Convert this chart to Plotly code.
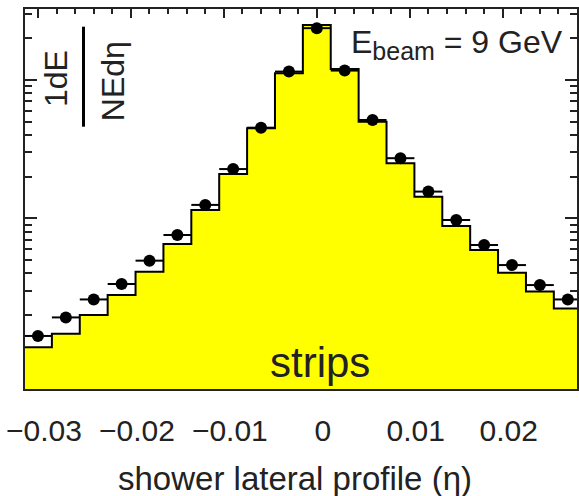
import plotly.graph_objects as go

# ---- data ----
bin_centers = [-0.030, -0.027, -0.024, -0.021, -0.018, -0.015, -0.012, -0.009, -0.006, -0.003,
               0.000, 0.003, 0.006, 0.009, 0.012, 0.015, 0.018, 0.021, 0.024, 0.027]
bin_width = 0.003
data_values = [1.41, 1.92, 2.59, 3.35, 4.94, 7.57, 12.5, 22.7, 45.2, 115,
               237, 117, 51.4, 27.2, 15.6, 9.72, 6.41, 4.59, 3.29, 2.59]
mc_values = [1.17, 1.46, 2.00, 2.79, 4.11, 6.52, 11.5, 20.9, 44.8, 112,
             250, 120, 49.9, 25.0, 14.3, 8.80, 5.90, 4.04, 2.95, 2.23]
x_title = "shower lateral profile (η)"
y_title_num = "1dE"
y_title_den = "NEdη"
beam_label = "E<sub><span style='font-size:25px'>beam</span></sub> = 9 GeV"
layer_label = "strips"

# ---- derived ----
half = bin_width / 2
edges_left = [c - half for c in bin_centers]
step_x = edges_left + [bin_centers[-1] + half]
step_y = mc_values + [mc_values[-1]]

W, H = 579, 496
L, R, T, B = 24, 1, 8, 106
pw, ph = W - L - R, H - T - B


def px(x):
    return (x - L) / pw


def py(y):
    return (H - B - y) / ph


TXT = "#222222"
FONT = "Liberation Sans, Arial, sans-serif"

fig = go.Figure()
fig.add_trace(go.Scatter(
    x=step_x, y=step_y, mode="lines", line=dict(shape="hv", color="black", width=2),
    fill="tozeroy", fillcolor="#ffff00", hoverinfo="skip", showlegend=False))
fig.add_trace(go.Scatter(
    x=bin_centers, y=data_values, mode="markers",
    marker=dict(color="black", size=12),
    error_x=dict(type="constant", value=half, thickness=2, width=0, color="black"),
    showlegend=False))

fig.update_layout(
    width=W, height=H,
    margin=dict(l=L, r=R, t=T, b=B, pad=0),
    paper_bgcolor="white", plot_bgcolor="white",
    font=dict(family=FONT, color=TXT, size=30),
    xaxis=dict(
        range=[-0.0315, 0.0281], tickmode="linear", tick0=0, dtick=0.01,
        ticks="inside", ticklen=10, tickwidth=2, tickcolor="#222",
        mirror="ticks", showline=False, showgrid=False, zeroline=False,
        layer="below traces", tickfont=dict(size=30, family=FONT, color=TXT),
        ticklabelshift=6, ticklabelstandoff=20, automargin=False,
        minor=dict(dtick=0.002, ticks="inside", ticklen=6, tickwidth=2, tickcolor="#222", showgrid=False),
    ),
    yaxis=dict(
        type="log", range=[-0.2415, 2.5206], dtick=1,
        ticks="inside", ticklen=13, tickwidth=2, tickcolor="#222",
        mirror="ticks", showline=False, showgrid=False, zeroline=False,
        showticklabels=False, layer="below traces", automargin=False,
        minor=dict(dtick="D1", ticks="inside", ticklen=8, tickwidth=2, tickcolor="#222", showgrid=False),
    ),
    shapes=[
        dict(type="rect", xref="paper", yref="paper", x0=0, x1=1, y0=0, y1=1,
             line=dict(color="#222", width=2), layer="above"),
        dict(type="line", xref="paper", yref="paper", x0=px(83.5), x1=px(83.5),
             y0=py(26.7), y1=py(126.7), line=dict(color="black", width=3), layer="above"),
    ],
    annotations=[
        dict(text=x_title, xref="paper", yref="paper", x=px(295), y=py(478),
             xanchor="center", yanchor="middle", showarrow=False,
             font=dict(size=33, family=FONT, color=TXT)),
        dict(text=y_title_num, xref="paper", yref="paper", x=px(56), y=py(79),
             xanchor="center", yanchor="middle", showarrow=False, textangle=-90,
             font=dict(size=32, family=FONT, color=TXT)),
        dict(text=y_title_den, xref="paper", yref="paper", x=px(112.5), y=py(81.7),
             xanchor="center", yanchor="middle", showarrow=False, textangle=-90,
             font=dict(size=32, family=FONT, color=TXT)),
        dict(text=beam_label, xref="paper", yref="paper", x=px(349), y=py(44.6),
             xanchor="left", yanchor="middle", showarrow=False,
             font=dict(size=32, family=FONT, color=TXT)),
        dict(text=layer_label, xref="paper", yref="paper", x=px(320), y=py(362.5),
             xanchor="center", yanchor="middle", showarrow=False,
             font=dict(size=42, family=FONT, color=TXT)),
    ],
)

fig.write_html("out.html", config={"displayModeBar": False},
               post_script="document.body.style.margin='0';document.body.style.padding='0';")
